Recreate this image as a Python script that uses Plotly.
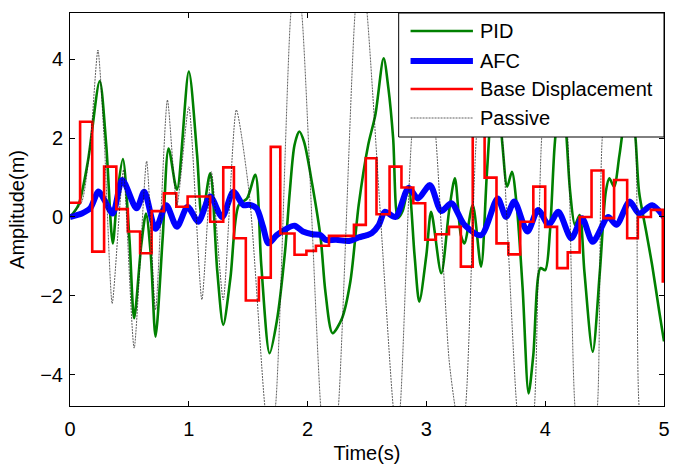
import plotly.graph_objects as go

# ---------------- data ----------------
pid_t = [0, 0.07, 0.15, 0.25, 0.305, 0.36, 0.40, 0.445, 0.5, 0.54, 0.6, 0.64, 0.68, 0.72, 0.78,
         0.83, 0.9, 1.0, 1.07, 1.11, 1.18, 1.24, 1.29, 1.35, 1.42, 1.49, 1.56, 1.61, 1.68, 1.74,
         1.81, 1.85, 1.89, 1.93, 1.97, 2.04, 2.11, 2.15, 2.21, 2.29, 2.36, 2.43, 2.51, 2.57, 2.64,
         2.68, 2.72, 2.76, 2.8, 2.85, 2.9, 2.94, 3.0, 3.04, 3.125, 3.19, 3.24, 3.29, 3.32, 3.39,
         3.46, 3.51, 3.58, 3.64, 3.68, 3.72, 3.76, 3.81, 3.86, 3.9, 3.96, 4.0, 4.04, 4.08, 4.14,
         4.18, 4.21, 4.25, 4.29, 4.33, 4.4, 4.46, 4.51, 4.54, 4.58, 4.625, 4.71, 4.76, 4.79, 4.85,
         4.9, 4.96, 5.0]
pid_v = [0, 0.3, 1.4, 3.45, 1.83, -0.67, 0.64, 1.47, -0.54, -2.57, -0.71, 0.09, -0.96, -3.04, -0.54,
         1.74, 0.69, 3.69, 1.57, -0.03, 1.11, -1.39, -2.74, -1.56, 0.3, 0.47, 1.07, -1.22, -3.46, -2.66,
         -0.88, 0.64, 1.83, 2.17, 1.91, 0.81, -0.54, -1.9, -2.95, -2.57, -1.64, 0.3, 1.83, 2.59, 4.03,
         3.27, 2.0, -0.03, 0.15, 0.77, -0.96, -2.15, -0.96, 0.13, -1.43, 0.13, 0.98, -0.46, -0.67, 0.3,
         -1.26, 1.15, 4.0, 1.83, 0.77, 1.15, 0.3, -1.81, -4.48, -3.5, -1.3, -1.35, -0.37, 1.83, 3.6,
         2.0, 0.64, -0.2, 0.05, -1.39, -3.42, -1.39, 0.64, 0.98, 0.77, 1.57, 3.3, 2.0, 0.64, -0.37,
         -1.22, -2.4, -3.16]

afc_t = [0, 0.1, 0.17, 0.24, 0.29, 0.36, 0.44, 0.56, 0.625, 0.72, 0.81, 0.9, 0.99, 1.08, 1.18,
         1.28, 1.375, 1.46, 1.51, 1.57, 1.625, 1.67, 1.74, 1.82, 1.89, 1.96, 2.04, 2.11, 2.15, 2.24,
         2.35, 2.43, 2.5, 2.54, 2.6, 2.65, 2.74, 2.85, 2.93, 3.03, 3.125, 3.21, 3.32, 3.46, 3.6,
         3.67, 3.74, 3.85, 3.94, 4.03, 4.11, 4.22, 4.31, 4.4, 4.53, 4.6, 4.71, 4.79, 4.9, 5.0]
afc_v = [0, 0.09, 0.22, 0.65, 0.43, 0.09, 0.94, 0.22, 0.64, -0.3, 0.3, -0.25, 0.26, -0.12, 0.52,
         0.0, 0.64, 0.3, 0.31, 0.22, -0.25, -0.67, -0.46, -0.3, -0.22, -0.37, -0.44, -0.46, -0.58, -0.58,
         -0.61, -0.52, -0.46, -0.41, -0.2, 0.13, 0.0, 0.74, 0.47, 0.81, 0.15, 0.35, -0.2, -0.46, 0.47,
         0.0, 0.39, -0.37, 0.18, -0.2, 0.13, -0.54, -0.03, -0.63, 0.0, -0.2, 0.39, 0.09, 0.3, 0.0]

base_t = [0, 0.085, 0.187, 0.287, 0.39, 0.487, 0.59, 0.687, 0.79, 0.895, 0.99, 1.18, 1.29, 1.38,
          1.48, 1.59, 1.69, 1.77, 1.89, 1.99, 2.07, 2.18, 2.39, 2.49, 2.58, 2.69, 2.79, 2.89, 2.99,
          3.08, 3.19, 3.29, 3.39, 3.49, 3.59, 3.69, 3.79, 3.9, 4.0, 4.1, 4.19, 4.29, 4.39, 4.49,
          4.58, 4.69, 4.78, 4.89, 4.99, 5.0]
base_v = [0.36, 2.42, -0.88, 1.28, 0.2, -0.37, -0.92, 0.15, 0.6, 0.26, 0.52, -0.12, 1.26, -0.54,
          -2.12, -1.54, 1.78, -0.42, -0.96, -0.86, -0.73, -0.48, -0.2, 1.49, 0.07, 1.28, 0.75, 0.35, -0.58,
          -0.44, -0.25, -1.26, 2.8, 1.0, -0.67, -0.95, -0.12, 0.77, -0.25, -1.3, -0.9, 0.0, 1.18, -0.03,
          0.94, -0.54, 0.0, 0.18, -1.64, -1.64]

passive_t = [0, 0.1, 0.17, 0.235, 0.29, 0.355, 0.42, 0.45, 0.54, 0.645, 0.72, 0.82, 0.9, 1.0,
             1.11, 1.19, 1.29, 1.4, 1.51, 1.64, 1.68, 1.73, 1.86, 1.905, 1.95, 2.11, 2.185, 2.26,
             2.40, 2.45, 2.50, 2.72, 2.75, 2.78, 2.875, 2.98, 3.08, 3.19, 3.24, 3.285, 3.33, 3.42,
             3.53, 3.64, 3.76, 3.835, 3.91, 3.97, 4.08, 4.19, 4.25, 4.345, 4.44, 4.48, 4.62, 4.76,
             4.79, 4.9, 5.0]
passive_v = [0, 0.39, 1.83, 4.24, 1.83, -2.2, 0.3, 1.2, -3.33, 1.42, -2.36, 2.97, 0.3, 2.8,
             -2.1, 1.15, -2.1, 2.72, 0.56, -4.8, -5.6, -4.8, 5.2, 6.0, 5.2, -4.8, -7.0, -4.8,
             5.2, 6.4, 5.2, -4.8, -5.4, -4.8, 2.0, 5.0, 2.0, -3.6, -4.8, -5.5, -4.8, 2.0,
             5.5, 2.0, -4.8, -6.8, -4.8, 2.0, 5.5, 2.0, -4.8, -7.2, -4.8, 2.0, 6.0, 2.0,
             -4.8, -7.5, -6.0]

series_names = ["PID", "AFC", "Base Displacement", "Passive"]
x_ticks = [0, 1, 2, 3, 4, 5]
y_ticks = [-4, -2, 0, 2, 4]

# ---------------- styling ----------------
FONT = "Liberation Sans, Arial, sans-serif"
FS = 20
GREEN = "#008000"
BLUE = "#0000FF"
RED = "#FF0000"
GREY = "#1a1a1a"
PASSIVE_DASH = "2px,1px"

fig = go.Figure()
fig.add_trace(go.Scatter(x=pid_t, y=pid_v, mode="lines", name=series_names[0],
                         line=dict(color=GREEN, width=2.6, shape="spline", smoothing=0.8),
                         showlegend=False))
fig.add_trace(go.Scatter(x=afc_t, y=afc_v, mode="lines", name=series_names[1],
                         line=dict(color=BLUE, width=6, shape="spline", smoothing=0.8),
                         showlegend=False))
fig.add_trace(go.Scatter(x=base_t, y=base_v, mode="lines", name=series_names[2],
                         line=dict(color=RED, width=2.6, shape="hv"),
                         showlegend=False))
fig.add_trace(go.Scatter(x=passive_t, y=passive_v, mode="lines", name=series_names[3],
                         line=dict(color=GREY, width=0.7, dash=PASSIVE_DASH, shape="spline", smoothing=0.6),
                         showlegend=False))

# plot area in pixels: left 70, right 670, top 13, bottom 406
L, R, T, B = 70, 670, 13, 406
W, H = 677, 468


def px2paper_x(px):
    return (px - L) / (R - L)


def px2paper_y(py):
    return (B - py) / (B - T)


shapes = [dict(type="rect", xref="paper", yref="paper",
               x0=px2paper_x(402), x1=1.0, y0=px2paper_y(137), y1=1.0,
               fillcolor="white", line=dict(color="black", width=1), layer="above")]
annotations = []
legend_rows = [31, 61, 89, 118]
legend_styles = [dict(color=GREEN, width=2.6), dict(color=BLUE, width=6),
                 dict(color=RED, width=2.6), dict(color=GREY, width=0.7, dash=PASSIVE_DASH)]
for name, row, st in zip(series_names, legend_rows, legend_styles):
    yy = px2paper_y(row)
    shapes.append(dict(type="line", xref="paper", yref="paper",
                       x0=px2paper_x(414), x1=px2paper_x(477), y0=yy, y1=yy,
                       line=st, layer="above"))
    annotations.append(dict(xref="paper", yref="paper", x=px2paper_x(482), y=yy,
                            xanchor="left", yanchor="middle", text=name, showarrow=False,
                            font=dict(family=FONT, size=FS, color="black")))

axis_common = dict(showline=True, linecolor="black", linewidth=1, mirror="ticks",
                   ticks="inside", ticklen=5, tickcolor="black", tickwidth=1,
                   showgrid=False, zeroline=False,
                   tickfont=dict(family=FONT, size=FS, color="black"))

fig.update_layout(
    width=W, height=H,
    margin=dict(l=L, r=W - R, t=T, b=H - B),
    paper_bgcolor="white", plot_bgcolor="white",
    xaxis=dict(range=[0, 5], tickvals=x_ticks, ticklabelstandoff=5,
               title=dict(text="Time(s)", standoff=6,
                          font=dict(family=FONT, size=FS, color="black")), **axis_common),
    yaxis=dict(range=[-4.80, 5.18], tickvals=y_ticks, ticklabelstandoff=2,
               title=dict(text="Amplitude(m)", standoff=10,
                          font=dict(family=FONT, size=FS, color="black")), **axis_common),
    shapes=shapes, annotations=annotations,
    showlegend=False,
)

fig.write_html("out.html")
